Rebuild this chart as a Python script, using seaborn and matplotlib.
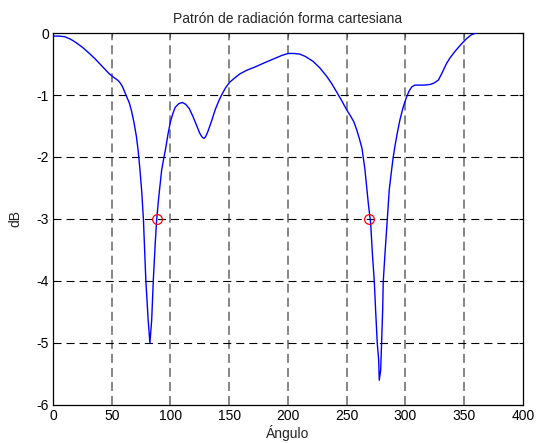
import numpy as np
import pandas as pd
import matplotlib
matplotlib.use("Agg")
import matplotlib.pyplot as plt
import seaborn as sns

# Radiation pattern samples (angle in degrees, gain in dB)
angulo = [0, 5, 10, 15, 20, 25, 31, 36, 40, 44, 48, 52, 55, 57, 59, 61, 63, 65, 67,
          69, 71, 72.5, 74, 75.5, 77, 79, 81, 82.5, 84, 85.4, 87, 88.2, 90, 92.5,
          94, 96, 98, 100, 102, 104, 107, 110, 113, 116, 119, 122, 125, 127, 128.5,
          130, 132, 135, 138, 141, 143.5, 147, 150.6, 155, 159, 165, 173, 180, 185,
          190, 195, 200, 205, 210, 215, 221.5, 227, 233, 237, 241.4, 246, 250, 253,
          256, 258.5, 261, 263, 265.5, 268.4, 270.4, 272, 273.5, 274.6, 276, 277.2,
          277.7, 278.9, 279.7, 280.6, 281.1, 282.6, 284.5, 286.2, 288.2, 289.6, 291,
          293, 295.3, 298, 301, 303, 305.3, 308, 311, 316, 321, 324, 328, 331, 335,
          338, 342, 347, 352, 356, 360]
ganancia_db = [-0.05, -0.05, -0.06, -0.10, -0.16, -0.23, -0.33, -0.42, -0.50, -0.58,
               -0.66, -0.72, -0.76, -0.80, -0.86, -0.95, -1.04, -1.13, -1.27, -1.45,
               -1.67, -1.90, -2.20, -2.55, -3.02, -3.98, -4.63, -5.00, -4.63, -3.98,
               -3.40, -3.02, -2.65, -2.21, -2.05, -1.85, -1.62, -1.43, -1.30, -1.20,
               -1.14, -1.12, -1.15, -1.22, -1.34, -1.48, -1.62, -1.68, -1.70, -1.67,
               -1.58, -1.42, -1.24, -1.10, -1.00, -0.88, -0.79, -0.72, -0.66, -0.60,
               -0.54, -0.48, -0.44, -0.40, -0.36, -0.33, -0.33, -0.34, -0.38, -0.46,
               -0.56, -0.70, -0.81, -0.95, -1.10, -1.24, -1.33, -1.43, -1.56, -1.72,
               -1.86, -2.20, -2.75, -3.07, -3.60, -4.01, -4.47, -5.00, -5.27, -5.60,
               -5.44, -5.00, -4.47, -4.01, -3.55, -3.02, -2.53, -2.21, -2.00, -1.83,
               -1.62, -1.40, -1.20, -1.03, -0.94, -0.87, -0.84, -0.84, -0.84, -0.83,
               -0.81, -0.76, -0.65, -0.49, -0.40, -0.30, -0.19, -0.09, -0.03, 0.00]

# -3 dB beamwidth points
angulo_3db = [88.5, 269]
nivel_3db = [-3, -3]

x_ticks = [0, 50, 100, 150, 200, 250, 300, 350, 400]
y_ticks = [-6, -5, -4, -3, -2, -1, 0]

sns.set_style("white")
plt.rcParams["font.family"] = ["Liberation Sans", "DejaVu Sans"]
plt.rcParams["lines.scale_dashes"] = False

fig = plt.figure(figsize=(5.38, 4.43), dpi=100)
ax = fig.add_axes([0.0985, 0.0858, 0.8735, 0.8397])

df = pd.DataFrame({"Ángulo": angulo, "dB": ganancia_db})
sns.lineplot(data=df, x="Ángulo", y="dB", ax=ax, color="#0000ff", lw=1.0,
             estimator=None, sort=False, zorder=3)
ax.plot(angulo_3db, nivel_3db, "o", mfc="none", mec="#ff0000", ms=7, mew=0.9, zorder=4)

ax.set_xlim(0, 400)
ax.set_ylim(-6, 0)
ax.set_xticks(x_ticks)
ax.set_yticks(y_ticks)
ax.set_xticklabels([str(v) for v in x_ticks])
ax.set_yticklabels([str(v) for v in y_ticks])

# Dashed grid
for xv in x_ticks[1:-1]:
    ax.axvline(xv, color="0.4", lw=1.1, ls=(0, (6.5, 3.6)), zorder=1)
for yv in y_ticks[1:-1]:
    ax.axhline(yv, color="black", lw=0.8, ls=(0, (5.8, 3.6)), zorder=1)

for s in ax.spines.values():
    s.set_visible(True)
    s.set_color("black")
    s.set_linewidth(0.9)

ax.tick_params(direction="in", length=3, width=0.8, top=True, right=True,
               labelsize=10, colors="black", pad=3)

ax.set_title("Patrón de radiación forma cartesiana", fontsize=10, pad=7)
ax.set_xlabel("Ángulo", fontsize=10, labelpad=1)
ax.set_ylabel("dB", fontsize=10, labelpad=10)

fig.savefig("out.png", dpi=100, facecolor="white")
